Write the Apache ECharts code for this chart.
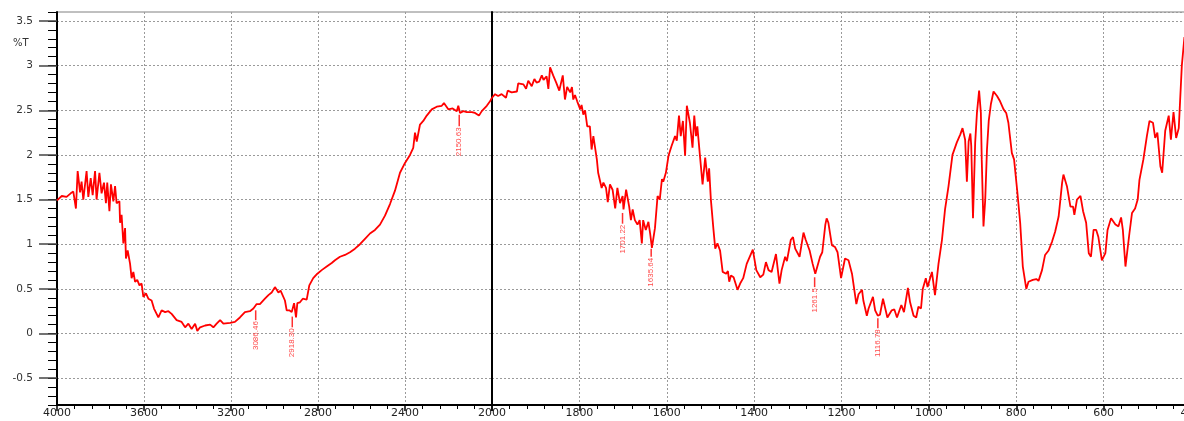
<!DOCTYPE html>
<html><head><meta charset="utf-8">
<script src="https://cdn.jsdelivr.net/npm/echarts@6/dist/echarts.min.js"></script>
<style>html,body{margin:0;padding:0;background:#fff}#c{width:1184px;height:421px}</style>
</head><body><div id="c"></div>
<script>
// Wavenumber (cm-1) and %T values
const wavenumbers = [
4000,3978,3956,3937,3925,3913,3905,3894,3887,3879,3864,3856,3845,3836,3825,3818,3805,3795,3784,3775,
3769,3759,3752,3741,3733,3726,3713,3710,3703,3695,3687,3683,3675,3664,3657,3649,3641,3631,3621,3611,
3603,3591,3580,3565,3554,3542,3534,3519,3503,3488,3473,3450,3427,3411,3396,3381,3365,3355,3342,3319,
3296,3281,3266,3250,3235,3204,3182,3159,3136,3113,3097,3082,3067,3044,3028,3013,2998,2982,2972,2952,
2944,2932,2921,2910,2901,2895,2883,2870,2852,2840,2822,2803,2783,2760,2737,2722,2699,2676,2653,2630,
2607,2584,2561,2538,2515,2492,2469,2446,2423,2400,2377,2362,2354,2346,2331,2316,2300,2277,2254,2231,
2221,2201,2181,2162,2155,2147,2132,2116,2093,2078,2060,2047,2024,2009,2000,
1993,1986,1978,1968,1964,1955,1943,1940,1928,1922,1917,1909,1903,1898,1892,1886,1882,1875,1871,1867,
1860,1853,1846,1838,1833,1828,1821,1817,1814,1810,1805,1798,1795,1791,1787,1782,1776,1772,1768,1760,
1757,1749,1745,1739,1735,1730,1724,1718,1713,1707,1701,1699,1693,1686,1682,1678,1673,1667,1662,1657,
1654,1648,1642,1638,1634,1627,1621,1616,1611,1608,1602,1596,1589,1581,1577,1572,1568,1563,1558,1554,
1547,1541,1537,1533,1530,1524,1518,1512,1506,1503,1499,1493,1489,1484,1478,1472,1464,1460,1457,1453,
1447,1438,1432,1425,1417,1403,1395,1386,1379,1373,1367,1360,1350,1342,1337,1329,1325,1316,1311,1306,
1304,1296,1287,1282,1273,1266,1260,1249,1244,1237,1234,1230,1222,1215,1209,1201,1192,1184,1176,1166,
1161,1153,1150,1142,1138,1134,1128,1125,1123,1117,1112,1105,1095,1085,1079,1073,1063,1057,1048,1043,
1035,1029,1024,1018,1014,1007,1003,993,986,978,970,963,955,946,936,928,923,917,913,909,
905,903,899,894,890,885,881,879,875,871,867,863,858,852,844,837,829,823,818,810,
805,798,791,785,777,772,762,754,749,741,734,726,718,711,703,695,692,684,676,670,
667,661,653,647,640,634,629,623,617,612,604,596,591,583,573,566,560,556,550,547,
541,535,528,522,518,514,509,501,495,487,482,477,470,466,459,455,451,446,440,434,
428,421,415];
const transmittance = [
1.49,1.54,1.53,1.57,1.59,1.40,1.82,1.58,1.70,1.50,1.82,1.53,1.74,1.55,1.82,1.50,1.80,1.57,1.69,1.46,
1.69,1.37,1.67,1.48,1.65,1.46,1.48,1.24,1.33,1.01,1.18,0.84,0.93,0.78,0.62,0.69,0.58,0.60,0.54,0.56,
0.41,0.45,0.39,0.37,0.28,0.22,0.18,0.26,0.24,0.25,0.22,0.15,0.13,0.07,0.11,0.05,0.11,0.03,0.07,0.09,
0.10,0.07,0.11,0.15,0.11,0.12,0.13,0.18,0.24,0.25,0.28,0.33,0.33,0.39,0.43,0.46,0.52,0.46,0.48,0.37,
0.26,0.26,0.24,0.34,0.18,0.34,0.35,0.39,0.38,0.54,0.62,0.67,0.71,0.75,0.79,0.82,0.86,0.88,0.91,0.95,
1.00,1.06,1.12,1.16,1.22,1.32,1.45,1.60,1.80,1.91,2.00,2.08,2.25,2.15,2.34,2.38,2.44,2.51,2.54,2.55,
2.58,2.51,2.52,2.49,2.55,2.47,2.49,2.48,2.48,2.47,2.44,2.49,2.55,2.60,2.64,
2.68,2.66,2.68,2.64,2.72,2.70,2.71,2.80,2.79,2.74,2.83,2.77,2.85,2.81,2.82,2.89,2.84,2.88,2.74,2.98,
2.89,2.81,2.72,2.89,2.62,2.76,2.70,2.76,2.62,2.67,2.60,2.51,2.56,2.45,2.50,2.32,2.32,2.06,2.21,1.95,
1.80,1.63,1.69,1.63,1.47,1.67,1.61,1.40,1.63,1.46,1.54,1.39,1.61,1.42,1.27,1.39,1.27,1.22,1.27,1.01,
1.27,1.16,1.25,1.12,0.96,1.18,1.54,1.50,1.73,1.70,1.80,1.99,2.10,2.21,2.16,2.44,2.21,2.38,1.99,2.55,
2.36,2.08,2.44,2.21,2.32,1.99,1.67,1.97,1.70,1.85,1.50,1.16,0.95,1.01,0.93,0.69,0.67,0.70,0.58,0.65,
0.63,0.49,0.56,0.62,0.78,0.94,0.71,0.63,0.66,0.80,0.71,0.69,0.89,0.56,0.71,0.86,0.81,1.05,1.08,0.95,
0.93,0.86,1.13,1.05,0.93,0.78,0.67,0.86,0.91,1.22,1.29,1.24,0.99,0.97,0.91,0.62,0.84,0.82,0.67,0.33,
0.44,0.49,0.37,0.20,0.28,0.30,0.41,0.43,0.26,0.20,0.21,0.39,0.18,0.26,0.27,0.18,0.32,0.24,0.51,0.35,
0.20,0.18,0.30,0.28,0.50,0.62,0.52,0.69,0.43,0.78,1.05,1.39,1.65,2.00,2.14,2.23,2.30,2.17,1.70,2.15,
2.24,2.10,1.29,2.14,2.47,2.72,2.47,1.95,1.20,1.50,2.06,2.38,2.57,2.71,2.66,2.60,2.51,2.47,2.36,2.02,
1.95,1.61,1.24,0.75,0.50,0.58,0.60,0.61,0.59,0.71,0.88,0.93,1.03,1.14,1.31,1.69,1.78,1.65,1.42,1.42,
1.33,1.50,1.54,1.37,1.24,0.90,0.86,1.16,1.16,1.08,0.82,0.90,1.16,1.29,1.22,1.20,1.30,1.16,0.75,0.73,
1.12,1.35,1.40,1.50,1.72,1.71,1.95,2.21,2.38,2.36,2.19,2.25,1.87,1.80,2.27,2.27,2.44,2.17,2.48,2.19,
2.30,3.00,3.32];

const xLabelsLeft = [4000, 3600, 3200, 2800, 2400];
const xLabelsRight = [2000, 1800, 1600, 1400, 1200, 1000, 800, 600, 400];
const yTicks = [-0.5, 0, 0.5, 1, 1.5, 2, 2.5, 3, 3.5];
const yName = '%T';

const peakWavenumbers = [3086.46, 2918.30, 2150.63, 1701.22, 1635.64, 1261.5, 1116.78];
const peakLabels = ['3086.46', '2918.30', '2150.63', '1701.22', '1635.64', '1261.5', '1116.78'];
const peakTips = [0.26, 0.19, 2.45, 1.35, 0.95, 0.63, 0.17];
const peakBases = [0.15, 0.07, 2.32, 1.23, 0.86, 0.52, 0.06];

const BREAK = 2000;
const leftData = [], rightData = [];
wavenumbers.forEach((w, i) => {
  if (w >= BREAK) leftData.push([w, transmittance[i]]);
  if (w <= BREAK) rightData.push([w, transmittance[i]]);
});
const leftPeaks = [], rightPeaks = [];
peakWavenumbers.forEach((w, i) => {
  const item = { value: [w, peakTips[i], peakBases[i]], name: peakLabels[i] };
  (w >= BREAK ? leftPeaks : rightPeaks).push(item);
});

function makePeakRenderer(list) {
  return function (params, api) {
    const x = api.value(0);
    const p1 = api.coord([x, api.value(1)]);
    const p2 = api.coord([x, api.value(2)]);
    return {
      type: 'group',
      children: [
        { type: 'line', shape: { x1: p1[0], y1: p1[1], x2: p2[0], y2: p2[1] },
          style: { stroke: '#ff3030', lineWidth: 1.5 } },
        { type: 'text', x: p2[0], y: p2[1] + 1, rotation: Math.PI / 2,
          style: { text: list[params.dataIndex].name, align: 'right', verticalAlign: 'middle',
                   textAlign: 'right', textVerticalAlign: 'middle',
                   fill: '#ff4a4a', font: '8px "Liberation Sans Narrow", "Liberation Sans", sans-serif' } }
      ]
    };
  };
}

const gridLine = { show: true, lineStyle: { color: '#9a9a9a', width: 1, type: [2, 2] } };
const labelFont = { color: '#222', fontSize: 11, fontFamily: 'DejaVu Sans', formatter: v => String(v) };

const chart = echarts.init(document.getElementById('c'), null, { renderer: 'canvas' });
chart.setOption({
  animation: false,
  backgroundColor: '#fff',
  grid: [
    { left: 57, top: 12, width: 435, height: 393, show: true, borderColor: '#808080', borderWidth: 1,
      outerBoundsMode: 'none', containLabel: false },
    { left: 492, top: 12, width: 699, height: 393, show: true, borderColor: '#808080', borderWidth: 1,
      outerBoundsMode: 'none', containLabel: false }
  ],
  graphic: [
    { type: 'text', left: 13, top: 38, style: { text: yName, fill: '#333', font: '10px "DejaVu Sans"' } }
  ],
  xAxis: [
    { gridIndex: 0, type: 'value', min: 2000, max: 4000, interval: 400, inverse: true, position: 'bottom',
      axisLine: { onZero: false, lineStyle: { color: '#000', width: 2 } },
      axisTick: { show: true, length: 6, lineStyle: { color: '#000', width: 1.5 } },
      minorTick: { show: true, splitNumber: 5, length: 4, lineStyle: { color: '#000', width: 1 } },
      axisLabel: Object.assign({ customValues: xLabelsLeft, margin: 3 }, labelFont),
      splitLine: gridLine },
    { gridIndex: 1, type: 'value', min: 400, max: 2000, interval: 200, inverse: true, position: 'bottom',
      axisLine: { onZero: false, lineStyle: { color: '#000', width: 2 } },
      axisTick: { show: true, length: 6, lineStyle: { color: '#000', width: 1.5 } },
      minorTick: { show: true, splitNumber: 5, length: 4, lineStyle: { color: '#000', width: 1 } },
      axisLabel: Object.assign({ customValues: xLabelsRight, margin: 3, hideOverlap: false }, labelFont),
      splitLine: gridLine }
  ],
  yAxis: [
    { gridIndex: 0, type: 'value', min: -0.8, max: 3.6, interval: 0.1, position: 'left',
      axisLine: { show: true, onZero: false, lineStyle: { color: '#000', width: 2 } },
      axisTick: { show: true, length: 9, lineStyle: { color: '#000', width: 1 } },
      axisLabel: Object.assign({ customValues: yTicks, margin: 24 }, labelFont, { color: '#333', fontSize: 10.5 }),
      splitLine: { show: false } },
    { gridIndex: 0, type: 'value', min: -0.8, max: 3.6, splitNumber: 9, position: 'left',
      axisLine: { show: false, onZero: false },
      axisTick: { show: true, customValues: yTicks, length: 18, lineStyle: { color: '#444', width: 1.5 } },
      axisLabel: { show: false },
      splitLine: gridLine },
    { gridIndex: 1, type: 'value', min: -0.8, max: 3.6, splitNumber: 9, position: 'left',
      axisLine: { show: true, onZero: false, lineStyle: { color: '#000', width: 2 } },
      axisTick: { show: false },
      axisLabel: { show: false },
      splitLine: gridLine }
  ],
  series: [
    { type: 'line', xAxisIndex: 0, yAxisIndex: 0, data: leftData, showSymbol: false,
      lineStyle: { color: '#ff0000', width: 1.8 }, z: 5 },
    { type: 'line', xAxisIndex: 1, yAxisIndex: 2, data: rightData, showSymbol: false,
      lineStyle: { color: '#ff0000', width: 1.8 }, z: 5 },
    { type: 'custom', xAxisIndex: 0, yAxisIndex: 0, data: leftPeaks, renderItem: makePeakRenderer(leftPeaks), z: 6 },
    { type: 'custom', xAxisIndex: 1, yAxisIndex: 2, data: rightPeaks, renderItem: makePeakRenderer(rightPeaks), z: 6 }
  ]
});
</script>
</body></html>
